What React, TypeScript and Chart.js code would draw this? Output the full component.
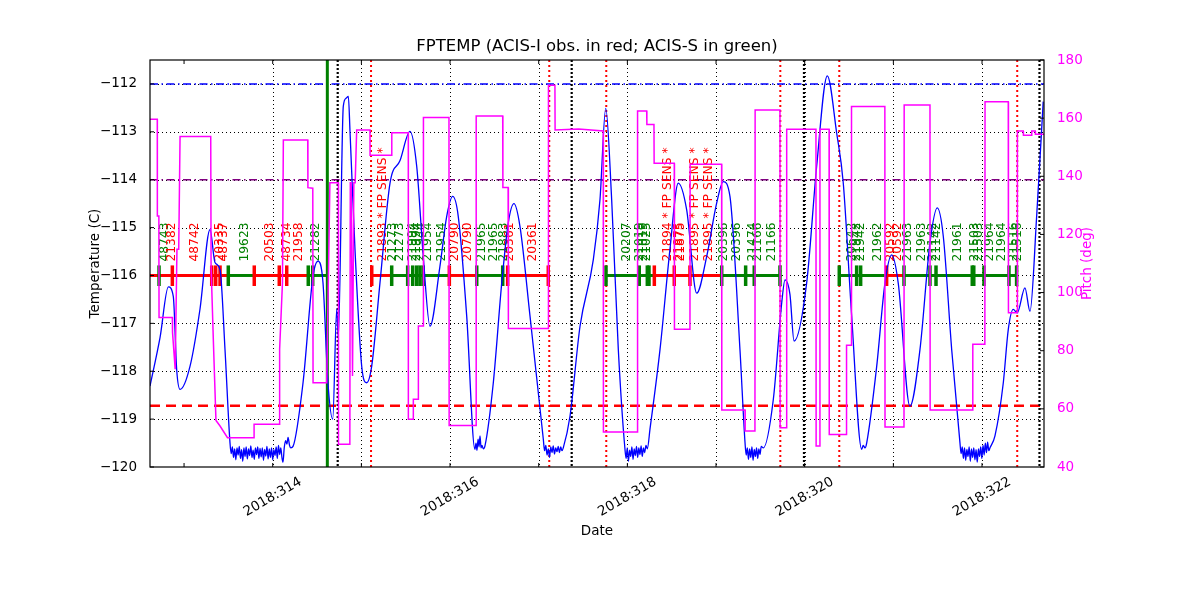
import React, { useEffect, useRef } from 'react';
import { Chart, registerables } from 'chart.js';

Chart.register(...registerables);

// ---------- data ----------
const chartTitle = 'FPTEMP (ACIS-I obs. in red; ACIS-S in green)';
const xTickDays = [314, 315, 316, 317, 318, 319, 320, 321, 322];
const xMinorTickDays = [313, 314, 315, 316, 317, 318, 319, 320, 321, 322];
const xLabelDays = [314, 316, 318, 320, 322];
const xLabels = ['2018:314', '2018:316', '2018:318', '2018:320', '2018:322'];
const tempTicks = [-120, -119, -118, -117, -116, -115, -114, -113, -112];
const pitchTicks = [40, 60, 80, 100, 120, 140, 160, 180];

// FPTEMP (day, deg C)
const tempSeries: [number, number][] = [
  [312.616, -118.31], [312.729, -117.3], [312.823, -116.24], [312.879, -116.44], [312.917, -117.97],
  [312.955, -118.38], [313.067, -117.9], [313.18, -116.7], [313.293, -115.04], [313.349, -115.73],
  [313.406, -115.88], [313.462, -117.55], [313.518, -119.49],
  [313.532, -119.72], [313.545, -119.58], [313.558, -119.8], [313.571, -119.62], [313.584, -119.85],
  [313.597, -119.6], [313.61, -119.75], [313.623, -119.57], [313.636, -119.82], [313.649, -119.64],
  [313.662, -119.88], [313.675, -119.6], [313.688, -119.78], [313.701, -119.58], [313.714, -119.83],
  [313.727, -119.62], [313.74, -119.76], [313.753, -119.56], [313.766, -119.8], [313.779, -119.65],
  [313.792, -119.84], [313.805, -119.6], [313.818, -119.74], [313.831, -119.58], [313.844, -119.82],
  [313.857, -119.61], [313.87, -119.79], [313.883, -119.6], [313.896, -119.86], [313.909, -119.63],
  [313.922, -119.77], [313.935, -119.57], [313.948, -119.83], [313.961, -119.62], [313.974, -119.8],
  [313.987, -119.6], [314.0, -119.85], [314.013, -119.64], [314.026, -119.76], [314.039, -119.58],
  [314.052, -119.82], [314.065, -119.55], [314.078, -119.74], [314.091, -119.6], [314.104, -119.8],
  [314.116, -119.9], [314.13, -119.6], [314.145, -119.45], [314.16, -119.52], [314.173, -119.38],
  [314.19, -119.55], [314.205, -119.6], [314.229, -119.57],
  [314.342, -118.24], [314.454, -116.02],
  [314.511, -115.7], [314.567, -116.15], [314.623, -118.24], [314.677, -119.0], [314.722, -116.7],
  [314.74, -117.3], [314.796, -112.47], [314.827, -112.3], [314.853, -112.26], [314.872, -113.0],
  [314.928, -115.46], [315.004, -117.9], [315.06, -118.24], [315.116, -117.9], [315.21, -116.15],
  [315.323, -114.07], [315.436, -113.6], [315.548, -112.99], [315.624, -113.72], [315.698, -115.6],
  [315.774, -117.06], [315.886, -115.81], [315.962, -114.77], [316.03, -114.35], [316.093, -114.77],
  [316.188, -116.85], [316.281, -119.63], [316.293, -119.5], [316.304, -119.65], [316.316, -119.42],
  [316.327, -119.58], [316.338, -119.35], [316.35, -119.6], [316.36, -119.55], [316.375, -119.62],
  [316.394, -119.56], [316.488, -118.24], [316.583, -116.16], [316.657, -114.9], [316.721, -114.5],
  [316.789, -114.98], [316.902, -116.85], [317.052, -119.42], [317.066, -119.66], [317.08, -119.55],
  [317.094, -119.75], [317.108, -119.62], [317.122, -119.8], [317.136, -119.58], [317.15, -119.7],
  [317.164, -119.56], [317.178, -119.73], [317.192, -119.6], [317.206, -119.68], [317.22, -119.57],
  [317.234, -119.7], [317.248, -119.58], [317.262, -119.66], [317.277, -119.6],
  [317.353, -118.94], [317.466, -117.06], [317.616, -115.67], [317.691, -114.42], [317.756, -112.51],
  [317.823, -114.42], [317.898, -117.55], [317.973, -119.63], [317.986, -119.82], [317.999, -119.6],
  [318.012, -119.88], [318.025, -119.65], [318.038, -119.78], [318.051, -119.58], [318.064, -119.84],
  [318.077, -119.62], [318.09, -119.76], [318.103, -119.57], [318.116, -119.8], [318.129, -119.6],
  [318.142, -119.74], [318.155, -119.56], [318.168, -119.78], [318.181, -119.6], [318.194, -119.7],
  [318.21, -119.55], [318.225, -119.62], [318.255, -119.21], [318.368, -117.55], [318.48, -115.46],
  [318.574, -114.07], [318.669, -114.63],
  [318.782, -116.37], [318.895, -115.6], [319.007, -114.49], [319.082, -114.04], [319.157, -114.35],
  [319.27, -117.55], [319.327, -119.49], [319.34, -119.75], [319.353, -119.6], [319.366, -119.84],
  [319.379, -119.62], [319.392, -119.8], [319.405, -119.58], [319.418, -119.86], [319.431, -119.63],
  [319.444, -119.78], [319.457, -119.6], [319.47, -119.82], [319.483, -119.62], [319.496, -119.74],
  [319.51, -119.57], [319.533, -119.6], [319.646, -118.59], [319.741, -116.57],
  [319.778, -116.09], [319.834, -116.4], [319.88, -117.37], [320.022, -116.16], [320.135, -113.72],
  [320.255, -111.83], [320.361, -113.03], [320.435, -114.07], [320.53, -116.85], [320.643, -119.63],
  [320.66, -119.55], [320.68, -119.6], [320.699, -119.5], [320.812, -117.9], [320.905, -116.16],
  [320.981, -115.57], [321.055, -116.16],
  [321.187, -118.73], [321.3, -117.55], [321.413, -115.32], [321.495, -114.59], [321.563, -115.18],
  [321.658, -117.55], [321.751, -119.49], [321.764, -119.72], [321.777, -119.58], [321.79, -119.82],
  [321.803, -119.6], [321.816, -119.86], [321.829, -119.63], [321.842, -119.78], [321.855, -119.58],
  [321.868, -119.88], [321.881, -119.62], [321.894, -119.8], [321.907, -119.6], [321.92, -119.85],
  [321.933, -119.64], [321.946, -119.9], [321.959, -119.62], [321.972, -119.78], [321.985, -119.58],
  [321.998, -119.82], [322.011, -119.55], [322.024, -119.75], [322.037, -119.5], [322.05, -119.7],
  [322.063, -119.48], [322.076, -119.66], [322.09, -119.6], [322.146, -119.35], [322.24, -118.24],
  [322.296, -117.13], [322.352, -116.71], [322.397, -116.78], [322.484, -116.26], [322.541, -116.75],
  [322.616, -114.77], [322.69, -112.37],
];

// Pitch (day, deg)
const pitchSeries: [number, number][] = [
  [312.616, 159.6], [312.698, 159.6], [312.699, 126.3], [312.716, 126.3], [312.718, 91.4], [312.868, 91.4],
  [312.87, 86.3], [312.9, 73.6], [312.92, 114.9], [312.94, 114.9], [312.955, 153.7], [313.301, 153.7],
  [313.305, 109], [313.33, 84], [313.36, 56], [313.406, 54.1], [313.49, 50.1], [313.789, 50.1],
  [313.79, 54.7], [314.074, 54.7], [314.078, 80.5], [314.11, 103.4], [314.12, 152.5], [314.395, 152.5],
  [314.397, 136.1], [314.452, 135.9], [314.455, 69], [314.609, 69], [314.645, 137.8], [314.74, 137.8],
  [314.742, 47.8], [314.87, 47.8], [314.875, 137.8], [314.885, 137.8], [314.9, 71.3], [314.915, 137.8],
  [314.93, 137.8], [314.947, 155.9], [315.097, 155.9], [315.098, 147.2], [315.342, 147.2], [315.343, 155],
  [315.529, 155], [315.53, 56.4], [315.585, 56.4], [315.586, 63.3], [315.642, 63.3], [315.643, 88.5],
  [315.698, 88.5], [315.7, 160.2], [315.988, 160.2], [315.99, 54.3], [316.293, 54.3], [316.295, 160.7],
  [316.594, 160.7], [316.596, 136.1], [316.655, 136.1], [316.658, 87.6], [317.108, 87.6], [317.11, 171.3],
  [317.183, 171.3], [317.185, 155.9], [317.45, 156.3], [317.728, 155.6], [317.73, 52], [318.112, 52],
  [318.115, 162.5], [318.218, 162.5], [318.22, 157.8], [318.3, 157.8], [318.302, 144.5], [318.529, 144.5],
  [318.531, 87.4], [318.706, 87.4], [318.708, 144.1], [319.063, 144.1], [319.065, 59.6], [319.327, 59.6],
  [319.329, 52.4], [319.439, 52.4], [319.441, 162.8], [319.721, 162.8], [319.723, 53.5], [319.795, 53.5],
  [319.797, 156.2], [320.127, 156.2], [320.129, 47.2], [320.17, 47.2], [320.172, 156.2], [320.275, 156.2],
  [320.277, 51.2], [320.47, 51.2], [320.472, 81.9], [320.526, 81.9], [320.528, 164], [320.904, 164],
  [320.906, 53.8], [321.12, 53.8], [321.122, 164.5], [321.413, 164.5], [321.415, 59.6], [321.894, 59.6],
  [321.896, 82.2], [322.032, 82.2], [322.034, 165.6], [322.296, 165.6], [322.298, 93.1], [322.397, 93.1],
  [322.399, 155.6], [322.465, 155.6], [322.467, 154.1], [322.559, 154.1], [322.561, 155.6], [322.6, 155.6],
  [322.602, 154.5], [322.699, 154.5],
];

// observation bar (instrument I = ACIS-I red, S = ACIS-S green)
const obsStart = [312.616, 313.499, 313.792, 314.401, 315.117, 315.342, 315.992, 316.301, 316.65, 317.759, 318.304, 319.064, 320.39, 320.924, 321.12];
const obsStop = [313.499, 313.792, 314.401, 314.616, 315.342, 315.992, 316.301, 316.65, 317.108, 318.304, 319.064, 319.721, 320.924, 321.12, 322.39];
const obsInst = ['I', 'S', 'I', 'S', 'I', 'S', 'I', 'S', 'I', 'S', 'I', 'S', 'S', 'I', 'S'];

const markerDay = [
  312.718, 312.868, 313.312, 313.357, 313.406, 313.499, 313.792, 314.074, 314.158, 314.401, 314.451,
  315.117, 315.342, 315.522, 315.579, 315.624, 315.661, 315.698, 315.992, 316.301, 316.594, 316.65, 317.108,
  317.759, 318.134, 318.225, 318.244, 318.304, 318.529, 318.706, 319.064, 319.334, 319.431, 319.721,
  320.39, 320.586, 320.631, 320.924, 321.12, 321.413, 321.481, 321.89, 321.907, 322.022, 322.304, 322.39,
];
const markerInst = [
  'S', 'I', 'I', 'I', 'I', 'S', 'I', 'I', 'I', 'S', 'S',
  'I', 'S', 'S', 'S', 'S', 'S', 'S', 'I', 'S', 'S', 'I', 'I',
  'S', 'S', 'S', 'S', 'I', 'I', 'I', 'S', 'S', 'S', 'S',
  'S', 'S', 'S', 'I', 'S', 'S', 'S', 'S', 'S', 'S', 'S', 'S',
];

const labelText = [
  '48743', '21382', '48742', '20335', '48737', '19623', '20503', '48734', '21958', '21282',
  '21893 * FP SENS *', '21273', '21273', '21994', '21994', '21944', '21954', '21954',
  '20790', '20790', '21965', '21965', '21883', '20361', '20361',
  '20207', '21019', '21019', '21025', '21894 * FP SENS *', '21875', '21875',
  '21895 * FP SENS *', '21895 * FP SENS *', '20396', '20396', '21474', '21166', '21166',
  '20642', '21942', '21942', '21962', '20592', '20592', '21963', '21963', '21142', '21142',
  '21961', '21503', '21503', '21964', '21964', '21516', '21516',
];
const labelDay = [
  312.785, 312.86, 313.124, 313.406, 313.454, 313.688, 313.97, 314.158, 314.297, 314.485,
  315.247, 315.36, 315.428, 315.577, 315.622, 315.672, 315.751, 315.906,
  316.056, 316.195, 316.357, 316.496, 316.612, 316.676, 316.932,
  317.992, 318.142, 318.18, 318.218, 318.461, 318.579, 318.605,
  318.755, 318.913, 319.093, 319.233, 319.42, 319.476, 319.627,
  320.53, 320.593, 320.629, 320.83, 320.97, 321.055, 321.168, 321.319, 321.45, 321.489,
  321.732, 321.92, 321.969, 322.09, 322.222, 322.36, 322.401,
];
const labelInst = [
  'S', 'I', 'I', 'I', 'I', 'S', 'I', 'I', 'I', 'S',
  'I', 'S', 'S', 'S', 'S', 'S', 'S', 'S',
  'I', 'I', 'S', 'S', 'S', 'I', 'I',
  'S', 'S', 'S', 'S', 'I', 'I', 'I',
  'I', 'I', 'S', 'S', 'S', 'S', 'S',
  'S', 'S', 'S', 'S', 'I', 'I', 'S', 'S', 'S', 'S',
  'S', 'S', 'S', 'S', 'S', 'S', 'S',
];

// reference lines
const planLimitTemp = -112;
const acisLimitTemp = -114;
const redLimitTemp = -118.72;
const obsBarTemp = -116;
const labelBaseTemp = -115.71;
const greenLineDays = [314.616];
const blackDotDays = [314.733, 317.372, 319.992, 322.648];
const redDotDays = [315.109, 317.119, 317.762, 319.725, 320.39, 322.397];

const X_MIN = 312.616;
const X_MAX = 322.699;

const FONT = '"DejaVu Sans", "Liberation Sans", sans-serif';
const RED = '#ff0000';
const GREEN = '#008000';
const MAGENTA = '#ff00ff';
const BLUE = '#0000ff';
const instColor = (s: string) => (s === 'I' ? RED : GREEN);

const overlayPlugin = {
  id: 'fptempOverlay',
  beforeDatasetsDraw(chart: any) {
    const { ctx, chartArea: a, scales } = chart;
    const xs = scales.x;
    const yt = scales.y;
    const X = (v: number) => xs.getPixelForValue(v);
    const Y = (v: number) => yt.getPixelForValue(v);
    const seg = (x1: number, y1: number, x2: number, y2: number) => {
      ctx.beginPath();
      ctx.moveTo(x1, y1);
      ctx.lineTo(x2, y2);
      ctx.stroke();
    };
    ctx.save();
    ctx.beginPath();
    ctx.rect(a.left, a.top, a.right - a.left, a.bottom - a.top);
    ctx.clip();

    // grid
    ctx.strokeStyle = '#000';
    ctx.lineWidth = 1;
    ctx.setLineDash([1, 3]);
    for (const d of xTickDays) {
      const px = Math.round(X(d)) + 0.5;
      seg(px, a.top, px, a.bottom);
    }
    for (const t of tempTicks) {
      const py = Math.round(Y(t)) + 0.5;
      seg(a.left, py, a.right, py);
    }

    // horizontal limits
    const hline = (v: number, color: string, w: number, dash: number[]) => {
      ctx.strokeStyle = color;
      ctx.lineWidth = w;
      ctx.setLineDash(dash);
      seg(a.left, Y(v), a.right, Y(v));
    };
    hline(planLimitTemp, BLUE, 1.5, [8, 3.5, 1.5, 3.5]);
    hline(acisLimitTemp, '#800080', 1.5, [8, 3.5, 1.5, 3.5]);
    hline(redLimitTemp, RED, 2.5, [10, 6]);

    // vertical lines
    const vline = (d: number, color: string, w: number, dash: number[]) => {
      ctx.strokeStyle = color;
      ctx.lineWidth = w;
      ctx.setLineDash(dash);
      seg(X(d), a.top, X(d), a.bottom);
    };
    for (const d of redDotDays) vline(d, RED, 2, [2, 3]);
    for (const d of blackDotDays) vline(d, '#000', 2.2, [2, 2]);
    for (const d of greenLineDays) vline(d, GREEN, 3, []);

    // observation bar
    ctx.setLineDash([]);
    ctx.lineWidth = 3;
    ctx.lineCap = 'butt';
    for (let i = 0; i < obsStart.length; i++) {
      ctx.strokeStyle = instColor(obsInst[i]);
      seg(X(obsStart[i]), Y(obsBarTemp), X(obsStop[i]), Y(obsBarTemp));
    }
    ctx.lineWidth = 3.5;
    for (let i = 0; i < markerDay.length; i++) {
      ctx.strokeStyle = instColor(markerInst[i]);
      seg(X(markerDay[i]), Y(obsBarTemp + 0.21), X(markerDay[i]), Y(obsBarTemp - 0.22));
    }

    // labels
    ctx.font = `12.3px ${FONT}`;
    ctx.textAlign = 'left';
    ctx.textBaseline = 'middle';
    for (let i = 0; i < labelText.length; i++) {
      ctx.save();
      ctx.fillStyle = instColor(labelInst[i]);
      ctx.translate(X(labelDay[i]), Y(labelBaseTemp));
      ctx.rotate(-Math.PI / 2);
      ctx.fillText(labelText[i], 0, 0);
      ctx.restore();
    }
    ctx.restore();
  },
  afterDatasetsDraw(chart: any) {
    const { ctx, chartArea: a, scales } = chart;
    const xs = scales.x;
    const yt = scales.y;
    const yp = scales.yPitch;
    ctx.save();
    ctx.setLineDash([]);
    // frame
    ctx.strokeStyle = '#000';
    ctx.lineWidth = 1.2;
    ctx.strokeRect(a.left, a.top, a.right - a.left, a.bottom - a.top);
    // inward ticks
    ctx.lineWidth = 1;
    for (const d of xMinorTickDays) {
      const px = xs.getPixelForValue(d);
      ctx.beginPath();
      ctx.moveTo(px, a.bottom);
      ctx.lineTo(px, a.bottom - 4);
      ctx.moveTo(px, a.top);
      ctx.lineTo(px, a.top + 4);
      ctx.stroke();
    }
    for (const t of tempTicks) {
      const py = yt.getPixelForValue(t);
      ctx.beginPath();
      ctx.moveTo(a.left, py);
      ctx.lineTo(a.left + 4, py);
      ctx.stroke();
    }
    for (const p of pitchTicks) {
      const py = yp.getPixelForValue(p);
      ctx.beginPath();
      ctx.moveTo(a.right, py);
      ctx.lineTo(a.right - 4, py);
      ctx.stroke();
    }
    // x tick labels (rotated 30 deg, centred on tick)
    ctx.fillStyle = '#000';
    ctx.font = `13.5px ${FONT}`;
    ctx.textAlign = 'center';
    ctx.textBaseline = 'middle';
    for (let i = 0; i < xLabelDays.length; i++) {
      ctx.save();
      ctx.translate(xs.getPixelForValue(xLabelDays[i]), a.bottom + 30);
      ctx.rotate(-Math.PI / 6);
      ctx.fillText(xLabels[i], 0, 0);
      ctx.restore();
    }
    // titles
    const cx = (a.left + a.right) / 2;
    const cy = (a.top + a.bottom) / 2;
    ctx.font = `16.5px ${FONT}`;
    ctx.fillText(chartTitle, cx, a.top - 13);
    ctx.font = `13.5px ${FONT}`;
    ctx.fillText('Date', cx, a.bottom + 64);
    ctx.save();
    ctx.translate(95, cy);
    ctx.rotate(-Math.PI / 2);
    ctx.fillText('Temperature (C)', 0, 0);
    ctx.restore();
    ctx.save();
    ctx.fillStyle = MAGENTA;
    ctx.translate(a.right + 43, cy);
    ctx.rotate(-Math.PI / 2);
    ctx.fillText('Pitch (deg)', 0, 0);
    ctx.restore();
    ctx.restore();
  },
};

export default function App() {
  const canvasRef = useRef<HTMLCanvasElement | null>(null);

  useEffect(() => {
    const canvas = canvasRef.current;
    if (!canvas) return;
    const chart = new Chart(canvas, {
      type: 'line',
      data: {
        datasets: [
          {
            label: 'Pitch',
            data: pitchSeries.map(([x, y]) => ({ x, y })),
            yAxisID: 'yPitch',
            borderColor: MAGENTA,
            borderWidth: 1.5,
            pointRadius: 0,
            fill: false,
            tension: 0,
          },
          {
            label: 'FPTEMP',
            data: tempSeries.map(([x, y]) => ({ x, y })),
            yAxisID: 'y',
            borderColor: BLUE,
            borderWidth: 1.3,
            pointRadius: 0,
            fill: false,
            cubicInterpolationMode: 'monotone',
          },
        ],
      },
      options: {
        animation: false,
        responsive: false,
        devicePixelRatio: 1,
        layout: { padding: { top: 60, left: 0, right: 0, bottom: 0 } },
        plugins: {
          legend: { display: false },
          tooltip: { enabled: false },
          title: { display: false },
        },
        scales: {
          x: {
            type: 'linear',
            position: 'bottom',
            min: X_MIN,
            max: X_MAX,
            grid: { display: false },
            border: { display: false },
            ticks: { display: false },
            afterFit: (s: any) => {
              s.height = 133;
            },
          },
          y: {
            type: 'linear',
            position: 'left',
            min: -120,
            max: -111.5,
            grid: { display: false },
            border: { display: false },
            ticks: {
              stepSize: 1,
              includeBounds: false,
              padding: 5,
              color: '#000',
              font: { family: FONT, size: 13.5 },
              callback: (v: any) => (v < 0 ? '\u2212' + Math.abs(v) : String(v)),
            },
            afterFit: (s: any) => {
              s.width = 150;
            },
          },
          yPitch: {
            type: 'linear',
            position: 'right',
            min: 40,
            max: 180,
            grid: { display: false },
            border: { display: false },
            ticks: {
              stepSize: 20,
              padding: 5,
              color: MAGENTA,
              font: { family: FONT, size: 13.5 },
            },
            afterFit: (s: any) => {
              s.width = 156;
            },
          },
        },
      },
      plugins: [overlayPlugin],
    } as any);
    return () => chart.destroy();
  }, []);

  return (
    <div style={{ position: 'fixed', left: 0, top: 0, width: 1200, height: 600, background: '#fff' }}>
      <canvas ref={canvasRef} width={1200} height={600} style={{ display: 'block', width: 1200, height: 600 }} />
    </div>
  );
}
